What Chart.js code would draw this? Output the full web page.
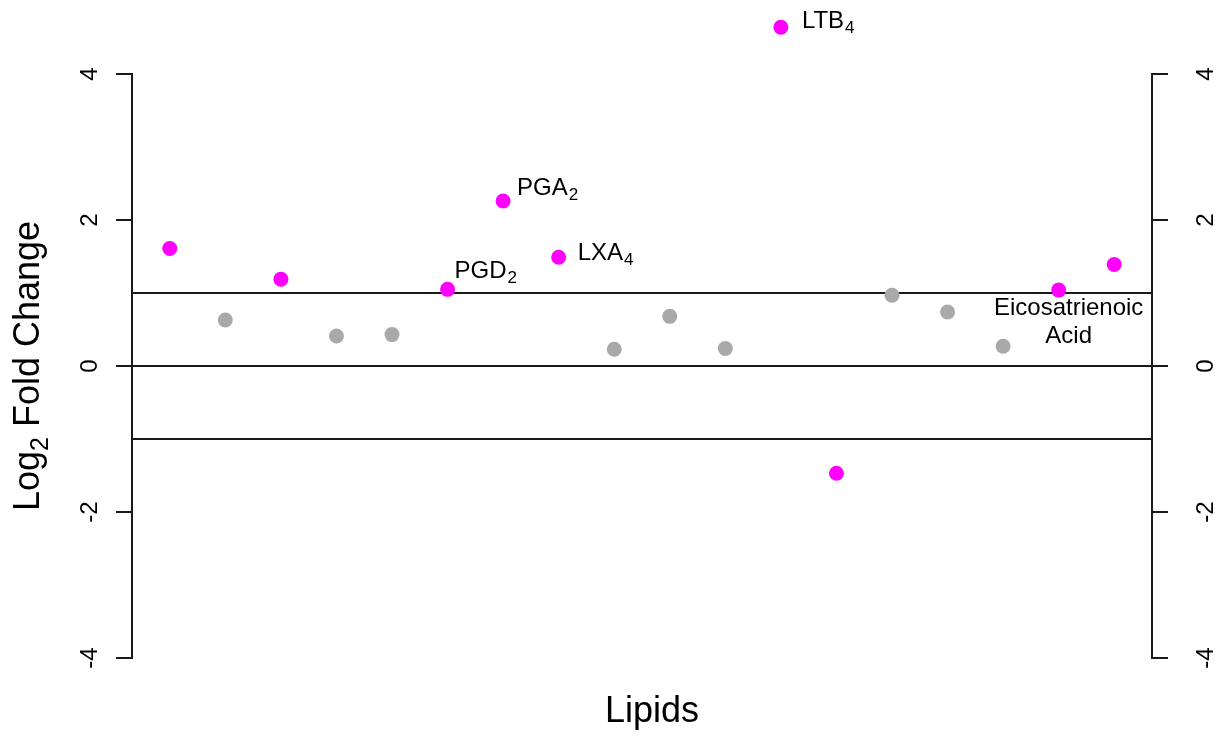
<!DOCTYPE html>
<html>
<head>
<meta charset="utf-8">
<script src="https://cdn.jsdelivr.net/npm/chart.js@4/dist/chart.umd.min.js"></script>
<style>
  html, body { margin: 0; padding: 0; background: #fff; }
  #wrap { width: 1223px; height: 736px; }
</style>
</head>
<body>
<div id="wrap"><canvas id="chart" width="1223" height="736"></canvas></div>
<script>
// ===== DATA =====
const LIPID_IDX = [1, 2, 3, 4, 5, 6, 7, 8, 9, 10, 11, 12, 13, 14, 15, 16, 17, 18];
const LOG2FC    = [1.61, 0.63, 1.19, 0.41, 0.43, 1.05, 2.26, 1.49, 0.23, 0.68, 0.24, 4.64, -1.47, 0.97, 0.74, 0.27, 1.04, 1.39];
const SIGNIF    = [1, 0, 1, 0, 0, 1, 1, 1, 0, 0, 0, 1, 1, 0, 0, 0, 1, 1];
const Y_TICKS   = [-4, -2, 0, 2, 4];
const CUTOFFS   = [1, 0, -1];
const LABEL_IDX   = [12, 7, 8, 6, 17];
const LABEL_MAIN  = ['LTB', 'PGA', 'LXA', 'PGD', 'Eicosatrienoic'];
const LABEL_SUB   = ['4', '2', '4', '2', ''];
const LABEL_LINE2 = ['', '', '', '', 'Acid'];

// ===== STYLE =====
const FONT = '"Liberation Sans", Arial, Helvetica, sans-serif';
const MAGENTA = '#ff00ff', GREY = '#a9a9a9', INK = '#1a1a1a';
// dx, dy (baseline), align  -- relative to the point's pixel position
const LABEL_POS = [[21, 1, 'left'], [14, -6, 'left'], [19, 3, 'left'], [7, -11, 'left'], [10, 25, 'center']];

function subText(ctx, main, sub, x, y, size, align) {
  ctx.font = `${size}px ${FONT}`;
  const w1 = ctx.measureText(main).width;
  ctx.font = `${Math.round(size * 0.72)}px ${FONT}`;
  const w2 = sub ? ctx.measureText(sub).width : 0;
  let x0 = x;
  if (align === 'center') x0 = x - (w1 + w2) / 2;
  ctx.textAlign = 'left';
  ctx.font = `${size}px ${FONT}`;
  ctx.fillText(main, x0, y);
  if (sub) {
    ctx.font = `${Math.round(size * 0.72)}px ${FONT}`;
    ctx.fillText(sub, x0 + w1 + 1, y + 5);
  }
}

const decor = {
  id: 'decor',
  beforeDatasetsDraw(chart) {
    const { ctx, chartArea: a, scales } = chart;
    const y = scales.y;
    ctx.save();
    ctx.strokeStyle = INK;
    ctx.lineWidth = 2;
    // cutoff lines
    CUTOFFS.forEach(v => {
      const py = Math.round(y.getPixelForValue(v));
      ctx.beginPath(); ctx.moveTo(a.left, py); ctx.lineTo(a.right, py); ctx.stroke();
    });
    // axis lines, only over the tick range
    const top = y.getPixelForValue(Y_TICKS[Y_TICKS.length - 1]);
    const bot = y.getPixelForValue(Y_TICKS[0]);
    [a.left, a.right].forEach(px => {
      ctx.beginPath(); ctx.moveTo(Math.round(px), top - 1); ctx.lineTo(Math.round(px), bot + 1); ctx.stroke();
    });
    ctx.restore();
  },
  afterDatasetsDraw(chart) {
    const { ctx, chartArea: a, scales } = chart;
    const x = scales.x, y = scales.y;
    ctx.save();
    ctx.fillStyle = '#000';
    ctx.textBaseline = 'alphabetic';

    // point labels
    LABEL_IDX.forEach((idx, i) => {
      const k = LIPID_IDX.indexOf(idx);
      const px = x.getPixelForValue(idx), py = y.getPixelForValue(LOG2FC[k]);
      const [dx, dy, align] = LABEL_POS[i];
      subText(ctx, LABEL_MAIN[i], LABEL_SUB[i], px + dx, py + dy, 24, align);
      if (LABEL_LINE2[i]) subText(ctx, LABEL_LINE2[i], '', px + dx, py + dy + 28, 24, align);
    });

    // rotated tick labels on both sides
    ctx.font = `24px ${FONT}`;
    ctx.textAlign = 'center';
    Y_TICKS.forEach(v => {
      const py = y.getPixelForValue(v);
      [a.left - 35, a.right + 61].forEach(px => {
        ctx.save(); ctx.translate(px, py); ctx.rotate(-Math.PI / 2);
        ctx.fillText(String(v), 0, 0);
        ctx.restore();
      });
    });

    // x title
    ctx.font = `36px ${FONT}`;
    ctx.textAlign = 'center';
    ctx.fillText('Lipids', (a.left + a.right) / 2 + 10, 722);

    // y title with subscript
    ctx.save();
    ctx.translate(39, (a.top + a.bottom) / 2);
    ctx.rotate(-Math.PI / 2);
    ctx.textAlign = 'left';
    ctx.font = `36px ${FONT}`;
    const w1 = ctx.measureText('Log').width, w3 = ctx.measureText(' Fold Change').width;
    ctx.font = `25px ${FONT}`;
    const w2 = ctx.measureText('2').width;
    const s = -(w1 + w2 + w3) / 2;
    ctx.font = `36px ${FONT}`;
    ctx.fillText('Log', s, 0);
    ctx.font = `25px ${FONT}`;
    ctx.fillText('2', s + w1, 9);
    ctx.font = `36px ${FONT}`;
    ctx.fillText(' Fold Change', s + w1 + w2, 0);
    ctx.restore();

    ctx.restore();
  }
};

const yAxis = (position, width) => ({
  type: 'linear',
  position,
  min: -5,
  max: 5,
  afterBuildTicks: s => { s.ticks = Y_TICKS.map(v => ({ value: v })); },
  afterFit: s => { s.width = width; s.paddingTop = 0; s.paddingBottom = 0; },
  ticks: { display: false },
  border: { display: false },
  grid: { display: true, drawOnChartArea: false, drawTicks: true, tickLength: 16, color: INK, lineWidth: 2 }
});

new Chart(document.getElementById('chart'), {
  type: 'scatter',
  data: {
    datasets: [{
      data: LIPID_IDX.map((v, i) => ({ x: v, y: LOG2FC[i] })),
      pointRadius: 7.5,
      pointHoverRadius: 7.5,
      pointBorderWidth: 0,
      borderColor: 'transparent',
      pointBackgroundColor: SIGNIF.map(s => s ? MAGENTA : GREY),
      clip: false
    }]
  },
  options: {
    responsive: false,
    animation: false,
    devicePixelRatio: 1,
    events: [],
    layout: { autoPadding: false, padding: { top: 1, bottom: 5, left: 0, right: 0 } },
    plugins: { legend: { display: false }, tooltip: { enabled: false } },
    scales: {
      x: { type: 'linear', min: 0.32, max: 18.68, display: false },
      y: yAxis('left', 132),
      y2: yAxis('right', 71)
    }
  },
  plugins: [decor]
});
</script>
</body>
</html>
